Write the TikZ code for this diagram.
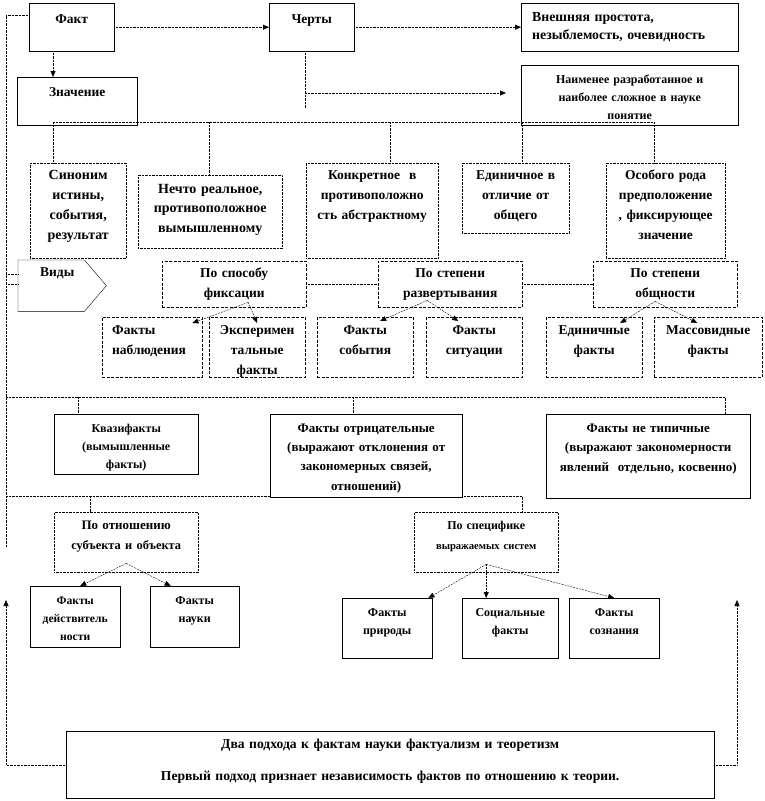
\documentclass[tikz,border=0pt]{standalone}
\usepackage{fontspec}
\setmainfont{Liberation Serif}
\usetikzlibrary{arrows.meta}

\begin{document}
\begin{tikzpicture}[
     x = 1pt, y = -1pt,
     box/.style = {draw, anchor = north west, inner xsep = 3pt, inner ysep = 0pt,
                   align = center, font = \fontsize{13.5}{20}\selectfont\bfseries},
     sz/.style n args = {3}{text width = #1pt-6pt, text height = #2pt,
                   /utils/exec = {\pgfmathsetmacro\boxdp{#3-#2}}, text depth = \boxdp pt},
     dotbox/.style = {box, densely dotted},
     dashbox/.style = {box, dash pattern = on 3pt off 1.5pt},
     small/.style = {font = \fontsize{12}{18}\selectfont\bfseries},
     link/.style = {densely dotted},
     arr/.style = {densely dotted, -{Triangle[length=6pt, width=5pt]}},
     tent/.style = {dash pattern = on 2pt off 1pt, -{Triangle[length=6pt, width=5pt]}}
    ]
    \fill[white] (0,0) rectangle (765,801);
    \useasboundingbox (0,0) rectangle (765,801);

    % top row
    \node[box, sz={85}{20}{48}] (fakt) at (29,3) {Факт};
    \node[box, sz={85}{20}{48}] (cherty) at (269,3) {Черты};
    \node[box, sz={217}{18}{48}, align = left, inner xsep = 11pt, text width = 195pt,
          font = \fontsize{13.8}{18}\selectfont\bfseries] (vnesh) at (521,3)
          {Внешняя простота,\\незыблемость, очевидность};
    \node[box, sz={120}{19}{48}] (znach) at (17,77) {Значение};
    \node[box, small, sz={217}{18}{60}] (naim) at (521,65)
          {Наименее разработанное и\\наиболее сложное в науке\\понятие};

    \draw[arr] (fakt) -- (cherty);
    \draw[arr] (cherty) -- (vnesh);

    \coordinate (b1) at (53,122);
    \coordinate (b2) at (209,122);
    \coordinate (b3) at (390,122);
    \coordinate (b4) at (522,122);
    \coordinate (b5) at (654,122);
    \draw[arr] (fakt.south -| b1) -- (znach.north -| b1);

    \coordinate (c1) at (305,108);
    \coordinate (c2) at (506,93);
    \draw[link] (cherty.south -| c1) -- (c1);
    \draw[arr] (c1 |- c2) -- (c2);

    % meanings
    \node[dotbox, sz={96}{16}{95}, font = \fontsize{14}{20}\selectfont\bfseries] (synon) at (30,163)
          {Синоним\\истины,\\события,\\результат};
    \node[dotbox, sz={144}{18}{73}, font = \fontsize{14}{19.5}\selectfont\bfseries] (nechto) at (138,175)
          {Нечто реальное,\\противоположное\\вымышленному};
    \node[dotbox, sz={132}{16}{95}] (konkr) at (306,163) {Конкретное\ \ в\\противоположно\\сть абстрактному};
    \node[dotbox, sz={107}{16}{70}] (edin) at (462,163) {Единичное\ в\\отличие от\\общего};
    \node[dotbox, sz={119}{16}{95}] (osob) at (606,163) {Особого рода\\предположение\\, фиксирующее\\значение};

    \draw[link] (b1) -- (b5);
    \draw[link] (b1) -- (b1 |- synon.north);
    \draw[link] (b2) -- (b2 |- nechto.north);
    \draw[link] (b3) -- (b3 |- konkr.north);
    \draw[link] (b4) -- (b4 |- edin.north);
    \draw[link] (b5) -- (b5 |- osob.north);

    % kinds
    \coordinate (rtop) at (6,15);
    \coordinate (rbot) at (6,547);
    \draw[link] ([yshift=12pt]fakt.west) -| (rtop) -- (rbot);

    \node[box, draw = none, sz={88}{16}{51}, align = left, inner xsep = 22pt, text width = 44pt] (vidy) at (18,260) {Виды};
    \draw (vidy.north west) -- ([xshift=-22pt]vidy.north east) -- (vidy.east)
          -- ([xshift=-22pt]vidy.south east) -- (vidy.south west) -- cycle;
    \draw[link] ([yshift=12pt]vidy.west) -- ([yshift=12pt]vidy.west -| rtop);
    \draw[link] ([yshift=2pt]vidy.west) -- ([yshift=2pt]vidy.west -| rtop);

    \node[dashbox, sz={144}{16}{46}] (fix) at (162,261) {По способу\\фиксации};
    \node[dashbox, sz={144}{16}{46}] (razv) at (378,261) {По степени\\развертывания};
    \node[dashbox, sz={144}{16}{46}] (obsh) at (593,261) {По степени\\общности};
    \draw[link] (fix) -- (razv);
    \draw[link] (razv) -- (obsh);

    \node[dashbox, sz={96}{17}{60}, align = left, inner xsep = 10pt, text width = 80pt] (nabl) at (102,317) {Факты\\наблюдения};
    \node[dashbox, sz={96}{17}{60}] (exper) at (209,317) {Эксперимен\\тальные\\факты};
    \node[dashbox, sz={96}{17}{60}] (sobyt) at (317,317) {Факты\\события};
    \node[dashbox, sz={96}{17}{60}] (sit) at (426,317) {Факты\\ситуации};
    \node[dashbox, sz={96}{17}{60}] (ediff) at (546,317) {Единичные\\факты};
    \node[dashbox, sz={108}{17}{60}] (mass) at (654,317) {Массовидные\\факты};

    \draw[tent] ([xshift=14pt,yshift=5pt]fix.south) -- ([xshift=-10pt,yshift=-6pt]nabl.north east);
    \draw[tent] ([xshift=14pt,yshift=5pt]fix.south) -- ([yshift=-6pt]exper.north);
    \draw[tent] ([xshift=-23pt,yshift=7pt]razv.south) -- ([xshift=15pt,yshift=-4pt]sobyt.north);
    \draw[tent] ([xshift=-23pt,yshift=7pt]razv.south) -- ([xshift=-16pt,yshift=-4pt]sit.north);
    \draw[tent] ([xshift=-10pt,yshift=6pt]obsh.south) -- ([xshift=26pt,yshift=-6pt]ediff.north);
    \draw[tent] ([xshift=-10pt,yshift=6pt]obsh.south) -- ([xshift=-11pt,yshift=-6pt]mass.north);

    % special facts
    \node[box, sz={144}{18}{60}, font = \fontsize{12}{18}\selectfont\bfseries] (kvazi) at (54,414)
          {Квазифакты\\(вымышленные\\факты)};
    \node[box, sz={192}{18}{83}, font = \fontsize{13}{19.3}\selectfont\bfseries] (otric) at (270,414)
          {Факты отрицательные\\(выражают отклонения от\\закономерных связей,\\отношений)};
    \node[box, sz={204}{18}{84}, font = \fontsize{13}{19.5}\selectfont\bfseries] (netip) at (546,414)
          {Факты не типичные\\(выражают закономерности\\явлений\ \ отдельно, косвенно)};

    \coordinate (q1) at (6,397);
    \coordinate (q2) at (725,397);
    \coordinate (q3) at (78,397);
    \coordinate (q4) at (353,397);
    \draw[link] (q1) -- (q2) -- (q2 |- netip.north);
    \draw[link] (q3) -- (q3 |- kvazi.north);
    \draw[link] (q4) -- (q4 |- otric.north);

    % relation and systems
    \node[dotbox, sz={144}{17}{60}, font = \fontsize{13}{20}\selectfont\bfseries] (otnosh) at (54,512)
          {По отношению\\{\fontsize{12.4}{20}\selectfont субъекта и объекта}};
    \node[dotbox, sz={144}{17}{60}, font = \fontsize{12}{20}\selectfont\bfseries] (spec) at (414,512)
          {По специфике\\{\fontsize{10.6}{20}\selectfont выражаемых систем}};

    \coordinate (p1) at (6,496);
    \coordinate (p2) at (522,496);
    \coordinate (p3) at (90,496);
    \draw[link] (p1) -- (p1 -| otric.west);
    \draw[link] (p1 -| otric.east) -- (p2) -- (p2 |- spec.north);
    \draw[link] (p3) -- (p3 |- otnosh.north);

    \node[box, small, sz={90}{18}{61}, font = \fontsize{11.6}{18}\selectfont\bfseries] (deist) at (30,586)
          {Факты\\действитель\\ности};
    \node[box, small, sz={89}{18}{61}] (nauki) at (150,586) {Факты\\науки};
    \node[box, small, sz={90}{18}{60}] (prir) at (342,598) {Факты\\природы};
    \node[box, small, sz={96}{18}{60}] (soc) at (462,598) {Социальные\\факты};
    \node[box, small, sz={90}{18}{60}] (soz) at (569,598) {Факты\\сознания};

    \draw[tent] ([yshift=9pt]otnosh.south) -- ([xshift=5pt]deist.north);
    \draw[tent] ([yshift=9pt]otnosh.south) -- ([xshift=-24pt]nauki.north);
    \draw[tent] ([yshift=8pt]spec.south) -- ([xshift=-4pt]prir.north east);
    \draw[tent] ([yshift=8pt]spec.south) -- ([xshift=-24pt]soc.north);
    \draw[tent] ([yshift=8pt]spec.south) -- (soz.north);

    % two approaches
    \node[box, sz={648}{17}{67}, font = \fontsize{13.6}{32}\selectfont\bfseries] (podh) at (66,731)
          {Два подхода к фактам науки фактуализм и теоретизм\\Первый подход признает независимость фактов по отношению к теории.};
    \coordinate (a1) at (6,600);
    \coordinate (a2) at (737,600);
    \draw[arr] (podh.west) -| (a1);
    \draw[arr] (podh.east) -| (a2);

   \end{tikzpicture}
\end{document}
